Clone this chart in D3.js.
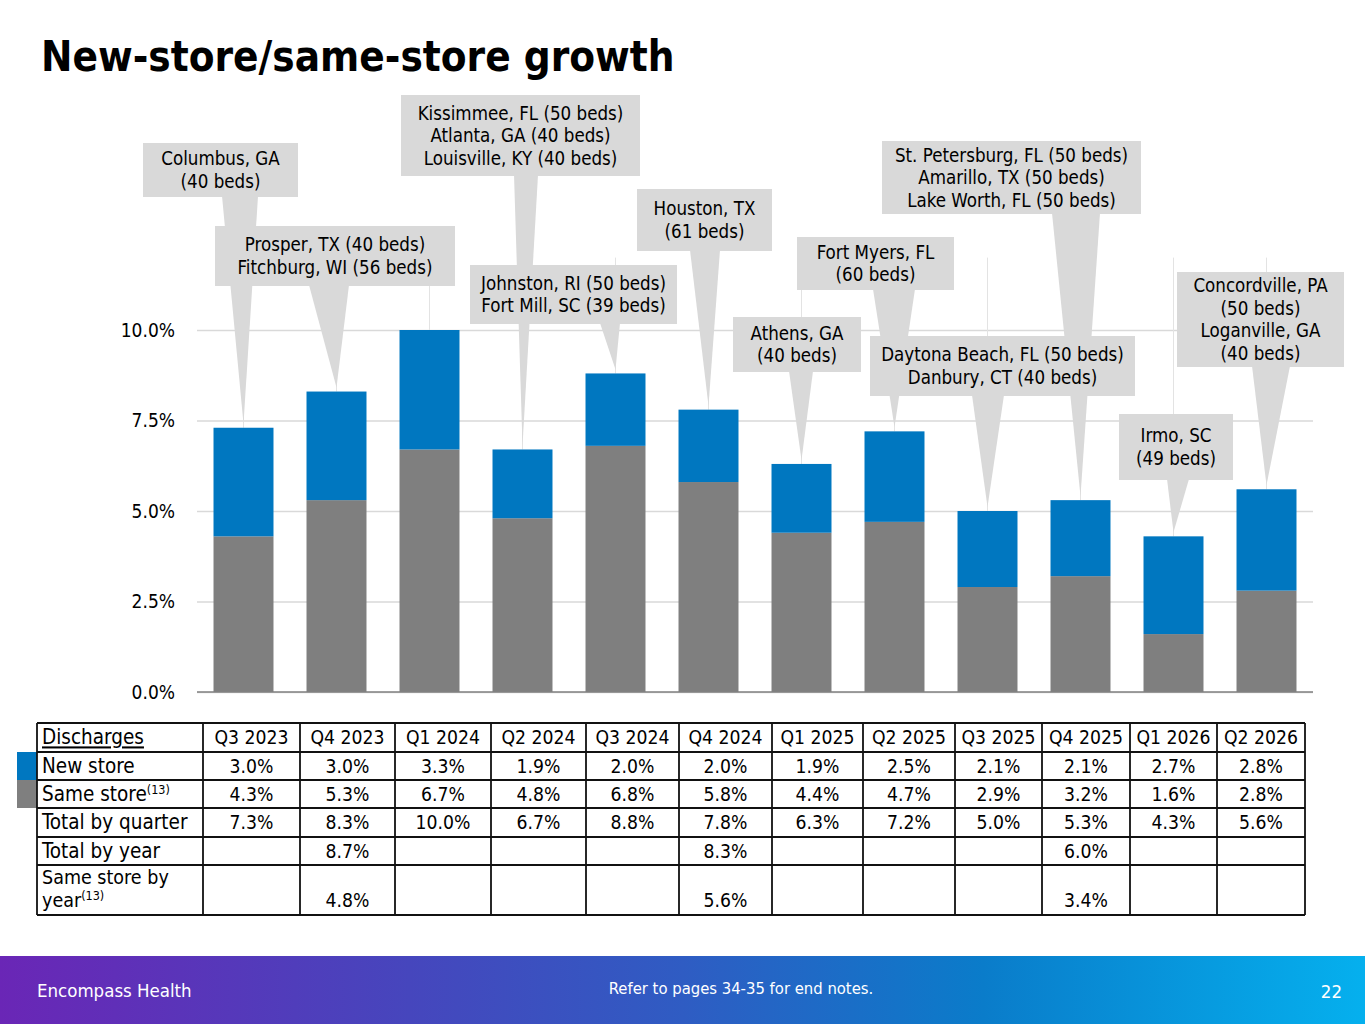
<!DOCTYPE html>
<html>
<head>
<meta charset="utf-8">
<script src="https://cdn.jsdelivr.net/npm/d3@7"></script>
<style>
  html, body { margin: 0; padding: 0; background: #fff; }
  svg { display: block; font-family: "DejaVu Sans Condensed", "DejaVu Sans", sans-serif; }
</style>
</head>
<body>
<svg id="chart" width="1365" height="1024"></svg>
<script>
var quarters = ['Q3 2023', 'Q4 2023', 'Q1 2024', 'Q2 2024', 'Q3 2024', 'Q4 2024',
  'Q1 2025', 'Q2 2025', 'Q3 2025', 'Q4 2025', 'Q1 2026', 'Q2 2026'];
var newStore = [3.0, 3.0, 3.3, 1.9, 2.0, 2.0, 1.9, 2.5, 2.1, 2.1, 2.7, 2.8];
var sameStore = [4.3, 5.3, 6.7, 4.8, 6.8, 5.8, 4.4, 4.7, 2.9, 3.2, 1.6, 2.8];
var totalByQuarter = [7.3, 8.3, 10.0, 6.7, 8.8, 7.8, 6.3, 7.2, 5.0, 5.3, 4.3, 5.6];
var totalByYear = [null, 8.7, null, null, null, 8.3, null, null, null, 6.0, null, null];
var sameStoreByYear = [null, 4.8, null, null, null, 5.6, null, null, null, 3.4, null, null];
var yTicks = [0, 2.5, 5, 7.5, 10];

// new locations opened in each quarter (callout text)
var openings = [
  ['Columbus, GA', '(40 beds)'],
  ['Prosper, TX (40 beds)', 'Fitchburg, WI (56 beds)'],
  null,
  ['Kissimmee, FL (50 beds)', 'Atlanta, GA (40 beds)', 'Louisville, KY (40 beds)'],
  ['Johnston, RI (50 beds)', 'Fort Mill, SC (39 beds)'],
  ['Houston, TX', '(61 beds)'],
  ['Athens, GA', '(40 beds)'],
  ['Fort Myers, FL', '(60 beds)'],
  ['Daytona Beach, FL (50 beds)', 'Danbury, CT (40 beds)'],
  ['St. Petersburg, FL (50 beds)', 'Amarillo, TX (50 beds)', 'Lake Worth, FL (50 beds)'],
  ['Irmo, SC', '(49 beds)'],
  ['Concordville, PA', '(50 beds)', 'Loganville, GA', '(40 beds)']
];

// callout box placement, listed in drawing order (back to front)
var calloutLayout = [
  { q: 0, x0: 143, x1: 298, y0: 143, y1: 197, bx: 240, hw: 18 },
  { q: 3, x0: 401, x1: 640, y0: 95, y1: 176, bx: 526, hw: 12 },
  { q: 7, x0: 797, x1: 954, y0: 237, y1: 290, bx: 894, hw: 21 },
  { q: 9, x0: 882, x1: 1141, y0: 141, y1: 214, bx: 1076, hw: 24 },
  { q: 5, x0: 637, x1: 772, y0: 189, y1: 251, bx: 705, hw: 15 },
  { q: 1, x0: 215, x1: 455, y0: 226, y1: 286, bx: 329, hw: 20 },
  { q: 4, x0: 470, x1: 677, y0: 265, y1: 324, bx: 610, hw: 10 },
  { q: 6, x0: 733, x1: 861, y0: 317, y1: 372, bx: 801, hw: 12 },
  { q: 8, x0: 870, x1: 1135, y0: 336, y1: 396, bx: 988, hw: 16 },
  { q: 10, x0: 1119, x1: 1233, y0: 414, y1: 480, bx: 1178, hw: 11 },
  { q: 11, x0: 1177, x1: 1344, y0: 272, y1: 367, bx: 1271, hw: 19 }
];

var colEdges = [37, 203, 300, 395, 491, 586, 679, 772, 863, 955, 1042, 1130, 1217, 1305];
var rowEdges = [723, 752, 780, 808, 837, 865, 915];

var blue = '#0077c0', gray = '#7f7f7f', calloutFill = '#d9d9d9', gridColor = '#d9d9d9';
var svg = d3.select('#chart');

var x = d3.scaleBand().domain(quarters).range([197, 1313])
  .paddingInner(0.355).paddingOuter(0.1775);
var y = d3.scaleLinear().domain([0, 12]).range([692, 257.6]);

function center(i) { return x(quarters[i]) + x.bandwidth() / 2; }
function fmt(v) { return v.toFixed(1) + '%'; }

/* title */
svg.append('text')
  .attr('x', 41).attr('y', 71)
  .attr('font-size', 41.8).attr('font-weight', 'bold').attr('fill', '#000')
  .text('New-store/same-store growth');

/* plot */
var plot = svg.append('g');

plot.append('g')
  .attr('transform', 'translate(197,0)')
  .call(d3.axisLeft(y).tickValues(yTicks).tickSize(-1116).tickFormat(function (d) { return d.toFixed(1) + '%'; }))
  .call(function (g) {
    g.select('.domain').remove();
    g.selectAll('.tick line').attr('stroke', gridColor).attr('stroke-width', 1.3);
    g.selectAll('.tick text').attr('x', -22).attr('font-size', 19).attr('fill', '#000')
      .attr('font-family', '"DejaVu Sans Condensed", sans-serif');
  });

// faint leader lines from the top of the plot down to each bar
plot.selectAll('.leader')
  .data(quarters)
  .enter()
  .append('line')
  .attr('class', 'leader')
  .attr('x1', function (d, i) { return center(i); })
  .attr('x2', function (d, i) { return center(i); })
  .attr('y1', y(12))
  .attr('y2', function (d, i) { return y(totalByQuarter[i]); })
  .attr('stroke', '#e3e3e3').attr('stroke-width', 1);

plot.selectAll('.same')
  .data(quarters)
  .enter()
  .append('rect')
  .attr('class', 'same')
  .attr('x', function (d) { return x(d); })
  .attr('width', x.bandwidth())
  .attr('y', function (d, i) { return y(sameStore[i]); })
  .attr('height', function (d, i) { return y(0) - y(sameStore[i]); })
  .attr('fill', gray);

plot.selectAll('.new')
  .data(quarters)
  .enter()
  .append('rect')
  .attr('class', 'new')
  .attr('x', function (d) { return x(d); })
  .attr('width', x.bandwidth())
  .attr('y', function (d, i) { return y(sameStore[i] + newStore[i]); })
  .attr('height', function (d, i) { return y(sameStore[i]) - y(sameStore[i] + newStore[i]); })
  .attr('fill', blue);

plot.append('line')
  .attr('x1', 197).attr('x2', 1313)
  .attr('y1', y(0)).attr('y2', y(0))
  .attr('stroke', '#808080').attr('stroke-width', 1.5);

/* callouts */
var callouts = svg.append('g').selectAll('g')
  .data(calloutLayout)
  .enter()
  .append('g');

callouts.append('path')
  .attr('fill', calloutFill)
  .attr('d', function (c) {
    var tipX = center(c.q), tipY = y(totalByQuarter[c.q]) - 4;
    return 'M' + (c.bx - c.hw) + ',' + (c.y1 - 1) +
      'L' + (c.bx + c.hw) + ',' + (c.y1 - 1) +
      'L' + tipX + ',' + tipY + 'Z';
  });

callouts.append('rect')
  .attr('x', function (c) { return c.x0; })
  .attr('y', function (c) { return c.y0; })
  .attr('width', function (c) { return c.x1 - c.x0; })
  .attr('height', function (c) { return c.y1 - c.y0; })
  .attr('fill', calloutFill);

callouts.each(function (c) {
  var lines = openings[c.q];
  var lh = 22.5;
  var top = (c.y0 + c.y1) / 2 - lh * lines.length / 2;
  d3.select(this).selectAll('text')
    .data(lines)
    .enter()
    .append('text')
    .attr('x', (c.x0 + c.x1) / 2)
    .attr('y', function (d, i) { return top + lh * i + lh / 2 + 6.5; })
    .attr('text-anchor', 'middle')
    .attr('font-size', 18.6)
    .attr('fill', '#000')
    .text(function (d) { return d; });
});

/* table */
var table = svg.append('g');
var fs = 19.2;

table.append('rect').attr('x', 17).attr('y', rowEdges[1]).attr('width', 20)
  .attr('height', rowEdges[2] - rowEdges[1]).attr('fill', blue);
table.append('rect').attr('x', 17).attr('y', rowEdges[2]).attr('width', 20)
  .attr('height', rowEdges[3] - rowEdges[2]).attr('fill', gray);

var rows = [
  { label: 'Discharges', vals: quarters, header: true },
  { label: 'New store', vals: newStore.map(fmt) },
  { label: 'Same store', sup: '(13)', vals: sameStore.map(fmt) },
  { label: 'Total by quarter', vals: totalByQuarter.map(fmt) },
  { label: 'Total by year', vals: totalByYear.map(function (v) { return v == null ? '' : fmt(v); }) },
  { label: 'Same store by', label2: 'year', sup: '(13)',
    vals: sameStoreByYear.map(function (v) { return v == null ? '' : fmt(v); }) }
];

rows.forEach(function (row, r) {
  var top = rowEdges[r], bottom = rowEdges[r + 1];
  var base = row.label2 ? bottom - 8 : (top + bottom) / 2 + fs * 0.36;
  var lfs = row.label2 ? 19.5 : 20.5;
  var lab = table.append('text')
    .attr('x', 42).attr('y', row.label2 ? top + 19 : base)
    .attr('font-size', lfs).attr('fill', '#000');
  lab.append('tspan').text(row.label)
    .attr('text-decoration', row.header ? 'underline' : null);
  if (row.label2) {
    lab = table.append('text')
      .attr('x', 42).attr('y', base)
      .attr('font-size', lfs).attr('fill', '#000');
    lab.append('tspan').text(row.label2);
  }
  if (row.sup) {
    lab.append('tspan').attr('dy', -7).attr('font-size', 12.5).text(row.sup);
  }
  table.selectAll('.v' + r)
    .data(row.vals)
    .enter()
    .append('text')
    .attr('x', function (d, i) { return (colEdges[i + 1] + colEdges[i + 2]) / 2; })
    .attr('y', base)
    .attr('text-anchor', 'middle')
    .attr('font-size', fs).attr('fill', '#000')
    .text(function (d) { return d; });
});

table.selectAll('.hline')
  .data(rowEdges)
  .enter()
  .append('line')
  .attr('x1', colEdges[0]).attr('x2', colEdges[colEdges.length - 1])
  .attr('y1', function (d) { return d; }).attr('y2', function (d) { return d; })
  .attr('stroke', '#111').attr('stroke-width', 1.8);

table.selectAll('.vline')
  .data(colEdges)
  .enter()
  .append('line')
  .attr('x1', function (d) { return d; }).attr('x2', function (d) { return d; })
  .attr('y1', rowEdges[0]).attr('y2', rowEdges[rowEdges.length - 1])
  .attr('stroke', '#111').attr('stroke-width', 1.8);

/* footer */
var grad = svg.append('defs').append('linearGradient')
  .attr('id', 'footerGrad').attr('x1', '0%').attr('x2', '100%');
[['0%', '#6a26b6'], ['30%', '#4646bd'], ['50%', '#2f5cc3'], ['72%', '#0a7cca'], ['100%', '#05b0ee']]
  .forEach(function (s) { grad.append('stop').attr('offset', s[0]).attr('stop-color', s[1]); });

svg.append('rect')
  .attr('x', 0).attr('y', 956).attr('width', 1365).attr('height', 68)
  .attr('fill', 'url(#footerGrad)');

svg.append('text').attr('x', 37).attr('y', 997)
  .attr('font-size', 18.5).attr('fill', '#fff').text('Encompass Health');
svg.append('text').attr('x', 741).attr('y', 994).attr('text-anchor', 'middle')
  .attr('font-size', 16.5).attr('fill', '#fff').text('Refer to pages 34-35 for end notes.');
svg.append('text').attr('x', 1342).attr('y', 998).attr('text-anchor', 'end')
  .attr('font-size', 18.5).attr('fill', '#fff').text('22');
</script>
</body>
</html>
